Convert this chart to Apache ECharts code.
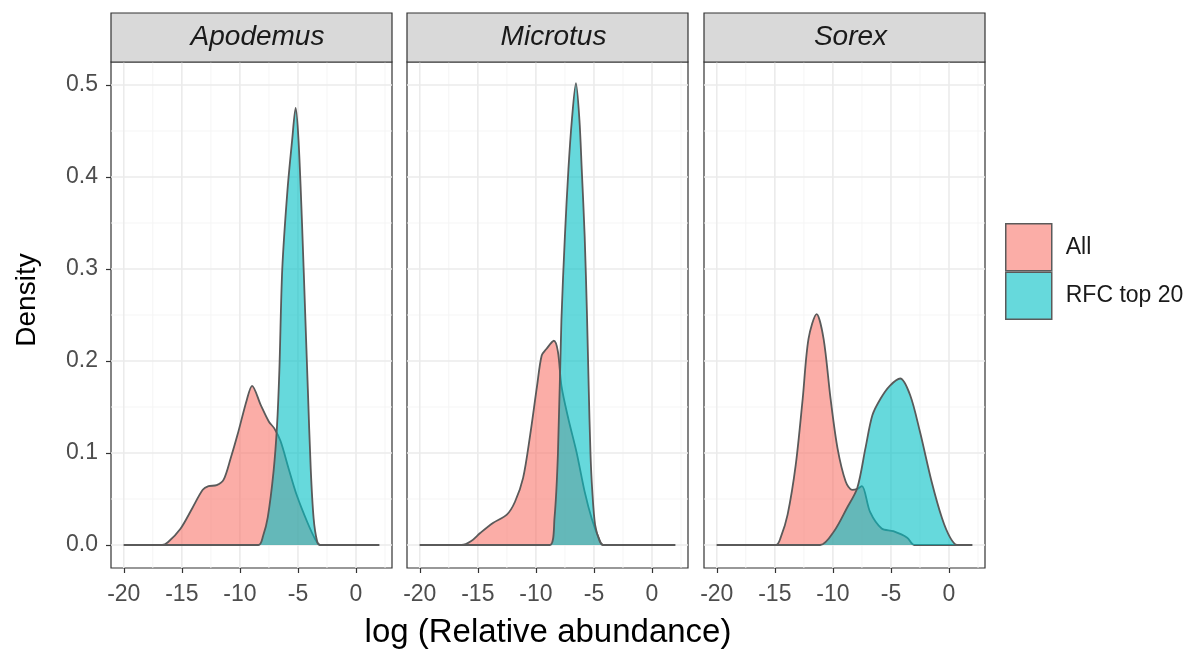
<!DOCTYPE html>
<html>
<head>
<meta charset="utf-8">
<script src="https://cdn.jsdelivr.net/npm/echarts@6.0.0/dist/echarts.min.js"></script>
<style>
html,body{margin:0;padding:0;background:#fff;}
#chart{width:1192px;height:651px;}
</style>
</head>
<body>
<div id="chart"></div>
<script>
// ---------- DATA ----------
const panels = ['Apodemus', 'Microtus', 'Sorex'];
const groups = ['All', 'RFC top 20'];
const xTitle = 'log (Relative abundance)';
const yTitle = 'Density';
const xTicks = [-20, -15, -10, -5, 0];
const xMinor = [-17.5, -12.5, -7.5, -2.5, 2.5];
const yTicks = [0, 0.1, 0.2, 0.3, 0.4, 0.5];
const yMinor = [0.05, 0.15, 0.25, 0.35, 0.45];

const apodemusAllX = [-20, -16.7, -16.2, -15.1, -14.1, -13.2, -12.7, -12.0, -11.4, -10.8, -10.2, -9.4, -8.95, -8.2, -7.5, -7.05, -6.5, -5.8, -5.1, -4.2, -3.5, -3.1, 2];
const apodemusAllY = [0, 0, 0.003, 0.018, 0.040, 0.060, 0.064, 0.065, 0.071, 0.094, 0.120, 0.158, 0.173, 0.152, 0.134, 0.127, 0.113, 0.083, 0.054, 0.025, 0.006, 0, 0];
const apodemusRfcX = [-20, -8.4, -8.0, -7.6, -7.1, -6.8, -6.6, -6.35, -5.9, -5.5, -5.2, -4.95, -4.65, -4.35, -4.15, -3.9, -3.65, -3.35, -3.1, 2];
const apodemusRfcY = [0, 0, 0.010, 0.030, 0.080, 0.130, 0.190, 0.300, 0.386, 0.440, 0.475, 0.440, 0.350, 0.242, 0.170, 0.083, 0.029, 0.004, 0, 0];

const microtusAllX = [-20, -16.4, -15.6, -14.8, -13.7, -12.5, -11.8, -11.1, -10.5, -9.9, -9.5, -9.1, -8.45, -8.1, -7.8, -7.2, -6.5, -5.8, -5.2, -4.6, -4.2, 2];
const microtusAllY = [0, 0, 0.004, 0.013, 0.024, 0.033, 0.047, 0.073, 0.119, 0.173, 0.206, 0.213, 0.222, 0.210, 0.173, 0.137, 0.101, 0.058, 0.029, 0.008, 0, 0];
const microtusRfcX = [-20, -8.8, -8.4, -8.1, -7.8, -7.5, -7.2, -6.9, -6.55, -6.25, -6.05, -5.8, -5.6, -5.45, -5.3, -5.15, -4.9, -4.5, -4.2, 2];
const microtusRfcY = [0, 0, 0.029, 0.100, 0.245, 0.336, 0.408, 0.462, 0.502, 0.462, 0.408, 0.336, 0.250, 0.170, 0.100, 0.060, 0.022, 0.004, 0, 0];

const sorexAllX = [-20, -14.9, -14.5, -13.9, -13.2, -12.6, -12.1, -11.4, -10.8, -10.2, -9.6, -8.9, -8.35, -7.9, -7.5, -6.8, -5.8, -4.8, -3.6, -3.0, 2];
const sorexAllY = [0, 0, 0.008, 0.033, 0.087, 0.159, 0.224, 0.251, 0.224, 0.159, 0.105, 0.069, 0.060, 0.061, 0.064, 0.036, 0.018, 0.015, 0.008, 0, 0];
const sorexRfcX = [-20, -11.1, -9.9, -8.8, -7.9, -7.2, -6.6, -5.9, -5.1, -4.2, -3.35, -2.5, -1.5, -0.6, 0.1, 0.7, 2];
const sorexRfcY = [0, 0, 0.015, 0.040, 0.062, 0.105, 0.141, 0.159, 0.173, 0.181, 0.163, 0.123, 0.069, 0.029, 0.008, 0, 0];

const curves = [
  [[apodemusAllX, apodemusAllY], [apodemusRfcX, apodemusRfcY]],
  [[microtusAllX, microtusAllY], [microtusRfcX, microtusRfcY]],
  [[sorexAllX, sorexAllY], [sorexRfcX, sorexRfcY]]
];

// ---------- LAYOUT / STYLE ----------
const gridLefts = [111, 407, 704];
const gridW = 281, gridTop = 62, gridH = 506;
const stripTop = 13, stripH = 49;
const fills = ['rgba(248,118,109,0.6)', 'rgba(0,191,196,0.6)'];
const outline = '#5a5a5a';
const FONT = '"Liberation Sans", Arial, Helvetica, sans-serif';

const zip = (xs, ys) => xs.map((x, i) => [x, ys[i]]);

const grids = [], xAxes = [], yAxes = [], series = [], graphics = [];

panels.forEach((name, i) => {
  grids.push({left: gridLefts[i], top: gridTop, width: gridW, height: gridH,
    show: true, borderColor: '#333', borderWidth: 1.2, backgroundColor: '#fff'});
  xAxes.push({
    gridIndex: i, type: 'value', min: -21.1, max: 3.1, position: 'bottom',
    splitLine: {show: false}, axisLine: {show: false, onZero: false},
    axisTick: {show: true, inside: false, customValues: xTicks, length: 5, lineStyle: {color: '#333', width: 1.2}},
    axisLabel: {customValues: xTicks, margin: 15, fontSize: 23, color: '#4D4D4D', fontFamily: FONT,
      formatter: v => String(v)}
  });
  yAxes.push({
    gridIndex: i, type: 'value', min: -0.025, max: 0.525, position: 'left',
    splitLine: {show: false}, axisLine: {show: false, onZero: false},
    axisTick: {show: i === 0, inside: false, customValues: yTicks, length: 5, lineStyle: {color: '#333', width: 1.2}},
    axisLabel: {show: i === 0, customValues: yTicks, margin: 13, fontSize: 23, color: '#4D4D4D', fontFamily: FONT,
      formatter: v => v.toFixed(1)}
  });
  // grid lines (drawn through the axis scales)
  const gl = [];
  xMinor.forEach(v => gl.push([v, 0, 0, 0]));
  yMinor.forEach(v => gl.push([0, v, 1, 0]));
  xTicks.forEach(v => gl.push([v, 0, 0, 1]));
  yTicks.forEach(v => gl.push([0, v, 1, 1]));
  series.push({
    type: 'custom', xAxisIndex: i, yAxisIndex: i, silent: true, z: 0,
    encode: {x: 0, y: 1}, data: gl, clip: true,
    renderItem: (params, api) => {
      const cs = params.coordSys;
      const kind = api.value(2), major = api.value(3);
      let shape;
      if (kind === 0) {
        const p = api.coord([api.value(0), 0]);
        shape = {x1: p[0], y1: cs.y, x2: p[0], y2: cs.y + cs.height};
      } else {
        const p = api.coord([0, api.value(1)]);
        shape = {x1: cs.x, y1: p[1], x2: cs.x + cs.width, y2: p[1]};
      }
      return {type: 'line', shape,
        style: {stroke: major ? '#EBEBEB' : '#F4F4F4', lineWidth: major ? 1.6 : 0.9}};
    }
  });
  curves[i].forEach((c, g) => {
    series.push({
      name: groups[g], type: 'line', xAxisIndex: i, yAxisIndex: i,
      data: zip(c[0], c[1]), showSymbol: false, symbol: 'none',
      smooth: 0.3, z: 2 + g, silent: true,
      itemStyle: {color: fills[g]},
      lineStyle: {color: outline, width: 1.8},
      areaStyle: {color: fills[g], opacity: 1}
    });
  });
  graphics.push({type: 'rect', z: 10,
    shape: {x: gridLefts[i], y: stripTop, width: gridW, height: stripH},
    style: {fill: '#D9D9D9', stroke: '#333', lineWidth: 1.2}});
  graphics.push({type: 'text', z: 11,
    x: gridLefts[i] + gridW / 2 + 6, y: stripTop + stripH / 2,
    style: {text: name, fontSize: 28, fontStyle: 'italic', fontFamily: FONT, fill: '#1A1A1A',
      align: 'center', verticalAlign: 'middle'}});
});

// axis titles
graphics.push({type: 'text', z: 11,
  x: (gridLefts[0] + gridLefts[2] + gridW) / 2, y: 633,
  style: {text: xTitle, fontSize: 33, fontFamily: FONT, fill: '#000',
    align: 'center', verticalAlign: 'middle'}});
graphics.push({type: 'text', z: 11,
  x: 27, y: 300, rotation: Math.PI / 2,
  style: {text: yTitle, fontSize: 28, fontFamily: FONT, fill: '#000',
    align: 'center', verticalAlign: 'middle'}});

const chart = echarts.init(document.getElementById('chart'), null, {renderer: 'canvas'});
chart.setOption({
  animation: false,
  backgroundColor: '#fff',
  grid: grids, xAxis: xAxes, yAxis: yAxes, series,
  graphic: graphics,
  legend: {
    orient: 'vertical', left: 1005, top: 223, padding: 0,
    itemWidth: 46, itemHeight: 47, itemGap: 0,
    icon: 'rect', selectedMode: false,
    textStyle: {fontSize: 23, color: '#1A1A1A', fontFamily: FONT, padding: [0, 0, 0, 9]},
    data: groups.map((g, k) => ({name: g, icon: 'rect',
      itemStyle: {color: fills[k], borderColor: outline, borderWidth: 1.5}}))
  }
});
</script>
</body>
</html>
